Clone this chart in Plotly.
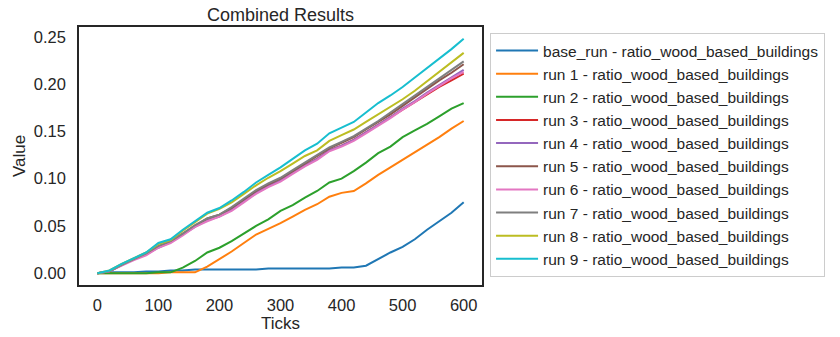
import plotly.graph_objects as go

ticks = list(range(0, 601, 20))

base_run = [0, 0.001, 0.001, 0.001, 0.002, 0.002, 0.003, 0.003, 0.004, 0.004, 0.004, 0.004, 0.004,
            0.004, 0.005, 0.005, 0.005, 0.005, 0.005, 0.005, 0.006, 0.006, 0.008, 0.015, 0.022,
            0.028, 0.036, 0.046, 0.055, 0.064, 0.075]
run1 = [0, 0.0, 0.0, 0.0, 0.0, 0.0, 0.001, 0.001, 0.001, 0.007, 0.015, 0.023, 0.032, 0.041, 0.047,
        0.053, 0.060, 0.067, 0.073, 0.081, 0.085, 0.087, 0.095, 0.104, 0.112, 0.120, 0.128, 0.136,
        0.144, 0.153, 0.161]
run2 = [0, 0.0, 0.0, 0.0, 0.0, 0.001, 0.001, 0.006, 0.013, 0.022, 0.027, 0.034, 0.042, 0.050, 0.057,
        0.066, 0.072, 0.080, 0.087, 0.096, 0.100, 0.108, 0.117, 0.127, 0.134, 0.144, 0.151, 0.158,
        0.166, 0.174, 0.180]
run3 = [0, 0.002, 0.009, 0.015, 0.020, 0.028, 0.033, 0.041, 0.050, 0.056, 0.061, 0.067, 0.076, 0.085,
        0.092, 0.098, 0.106, 0.114, 0.121, 0.130, 0.135, 0.141, 0.149, 0.157, 0.165, 0.173, 0.181,
        0.189, 0.197, 0.204, 0.211]
run4 = [0, 0.002, 0.009, 0.015, 0.020, 0.027, 0.033, 0.041, 0.049, 0.056, 0.060, 0.067, 0.076, 0.085,
        0.092, 0.098, 0.106, 0.114, 0.121, 0.130, 0.135, 0.141, 0.149, 0.157, 0.165, 0.174, 0.182,
        0.191, 0.199, 0.207, 0.215]
run5 = [0, 0.002, 0.009, 0.015, 0.021, 0.028, 0.034, 0.042, 0.050, 0.058, 0.062, 0.069, 0.078, 0.087,
        0.094, 0.100, 0.108, 0.116, 0.124, 0.132, 0.138, 0.144, 0.152, 0.160, 0.168, 0.177, 0.186,
        0.195, 0.204, 0.212, 0.221]
run6 = [0, 0.002, 0.008, 0.014, 0.019, 0.027, 0.032, 0.040, 0.049, 0.055, 0.060, 0.066, 0.075, 0.084,
        0.091, 0.097, 0.105, 0.113, 0.120, 0.129, 0.134, 0.140, 0.148, 0.156, 0.164, 0.173, 0.181,
        0.190, 0.198, 0.206, 0.213]
run7 = [0, 0.002, 0.009, 0.015, 0.021, 0.029, 0.034, 0.042, 0.051, 0.058, 0.062, 0.070, 0.079, 0.088,
        0.095, 0.101, 0.109, 0.117, 0.125, 0.133, 0.139, 0.145, 0.153, 0.161, 0.170, 0.179, 0.188,
        0.197, 0.206, 0.215, 0.224]
run8 = [0, 0.003, 0.010, 0.016, 0.022, 0.031, 0.035, 0.045, 0.054, 0.063, 0.068, 0.075, 0.084, 0.093,
        0.101, 0.108, 0.116, 0.124, 0.130, 0.140, 0.146, 0.152, 0.160, 0.168, 0.176, 0.184, 0.193,
        0.203, 0.213, 0.223, 0.233]
run9 = [0, 0.003, 0.010, 0.016, 0.022, 0.032, 0.036, 0.046, 0.055, 0.064, 0.069, 0.077, 0.086, 0.096,
        0.104, 0.112, 0.121, 0.130, 0.137, 0.148, 0.154, 0.160, 0.170, 0.180, 0.188, 0.197, 0.207,
        0.217, 0.227, 0.237, 0.248]

names = ["base_run", "run 1", "run 2", "run 3", "run 4", "run 5", "run 6", "run 7", "run 8", "run 9"]
series = [base_run, run1, run2, run3, run4, run5, run6, run7, run8, run9]
colors = ["#1f77b4", "#ff7f0e", "#2ca02c", "#d62728", "#9467bd",
          "#8c564b", "#e377c2", "#7f7f7f", "#bcbd22", "#17becf"]
suffix = " - ratio_wood_based_buildings"

x_tickvals = [0, 100, 200, 300, 400, 500, 600]
y_tickvals = [0.0, 0.05, 0.10, 0.15, 0.20, 0.25]

fig = go.Figure()
for n, s, c in zip(names, series, colors):
    fig.add_trace(go.Scatter(x=ticks, y=s, mode="lines", name=n + suffix,
                             line=dict(color=c, width=2)))

font_family = "Liberation Sans, Arial, sans-serif"
txt = "#262626"
fig.update_layout(
    width=840, height=337,
    margin=dict(l=79, r=358, t=27, b=52),
    plot_bgcolor="white", paper_bgcolor="white",
    font=dict(family=font_family, color=txt, size=16),
    title=dict(text="Combined Results", x=0.334, xanchor="center", y=0.955, yanchor="middle",
               font=dict(size=18, color=txt)),
    showlegend=True,
    legend=dict(x=1.02, xanchor="left", y=0.977, yanchor="top",
                bordercolor="#cccccc", borderwidth=1, bgcolor="white",
                font=dict(size=15.5, color=txt), tracegroupgap=0, itemwidth=42),
)
fig.update_xaxes(range=[-30, 630], tickvals=x_tickvals, showgrid=False, zeroline=False,
                 showline=True, mirror=True, linecolor="#262626", linewidth=1.6,
                 ticks="", ticklabelstandoff=4,
                 title=dict(text="Ticks", font=dict(size=17), standoff=0),
                 tickfont=dict(size=16.5))
fig.update_yaxes(range=[-0.0124, 0.2604], tickvals=y_tickvals, tickformat=".2f",
                 showgrid=False, zeroline=False,
                 showline=True, mirror=True, linecolor="#262626", linewidth=1.6,
                 ticks="", ticklabelstandoff=8,
                 title=dict(text="Value", font=dict(size=17), standoff=4),
                 tickfont=dict(size=16.5))

fig.write_html("out.html")
